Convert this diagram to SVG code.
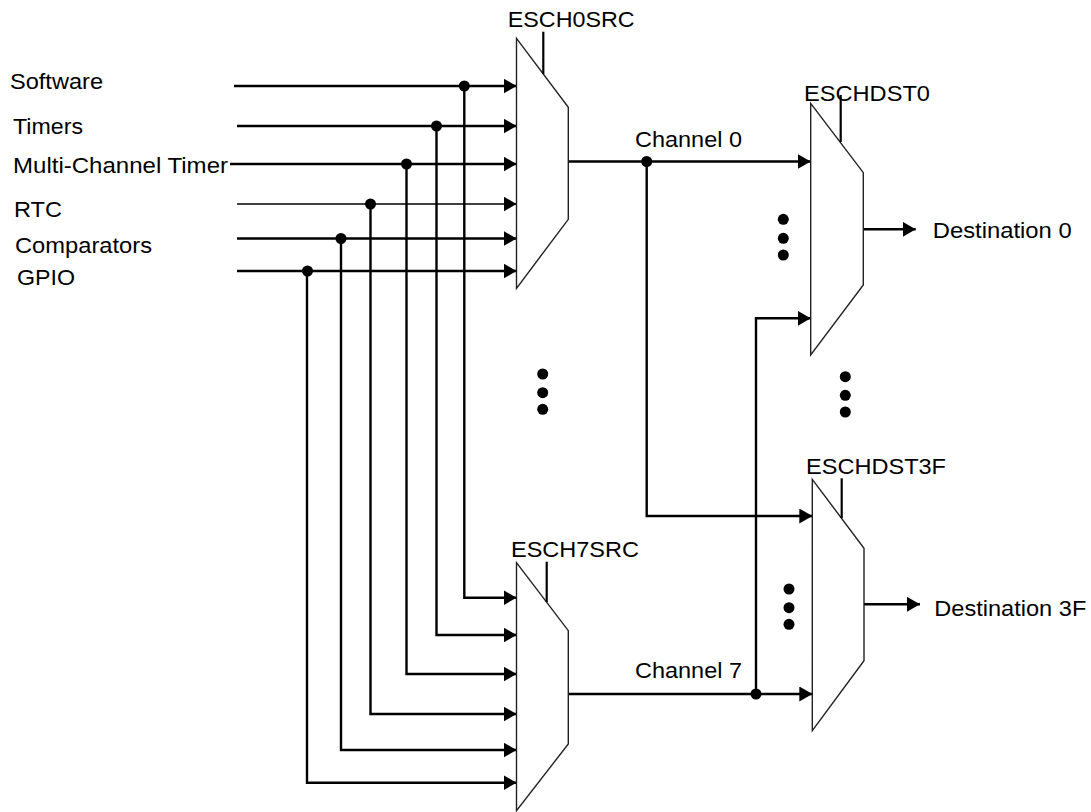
<svg xmlns="http://www.w3.org/2000/svg" width="1091" height="812" viewBox="0 0 1091 812">
<style>
text{font-family:"Liberation Sans",Arial,sans-serif;font-size:22px;fill:#000}
.mux{fill:#fff;stroke:#222;stroke-width:1.4}
.ctl{fill:none;stroke:#000;stroke-width:2.2}
.w{fill:none;stroke:#000;stroke-width:2.4}
.thin{stroke-width:1.4}
.dot{fill:#000}
</style>
<defs>
<marker id="ah" markerUnits="userSpaceOnUse" markerWidth="13" markerHeight="15" refX="13" refY="7.5" orient="auto">
<path d="M0,0 L13,7.5 L0,15 Z" fill="#000"/>
</marker>
</defs>
<rect width="1091" height="812" fill="#fff"/>
<g id="sources">
<g id="src-software"><text x="10" y="89" textLength="93" lengthAdjust="spacingAndGlyphs">Software</text></g>
<g id="src-timers"><text x="13" y="134" textLength="70" lengthAdjust="spacingAndGlyphs">Timers</text></g>
<g id="src-mct"><text x="13" y="173" textLength="215" lengthAdjust="spacingAndGlyphs">Multi-Channel Timer</text></g>
<g id="src-rtc"><text x="14" y="217" textLength="48" lengthAdjust="spacingAndGlyphs">RTC</text></g>
<g id="src-comparators"><text x="15" y="253" textLength="137" lengthAdjust="spacingAndGlyphs">Comparators</text></g>
<g id="src-gpio"><text x="17" y="285" textLength="58" lengthAdjust="spacingAndGlyphs">GPIO</text></g>
</g>
<g id="connectors">
<path class="w" d="M234,86 H516.5" marker-end="url(#ah)"/>
<path class="w" d="M237,126 H516.5" marker-end="url(#ah)"/>
<path class="w" d="M230,164 H516.5" marker-end="url(#ah)"/>
<path class="w thin" d="M237,204 H516.5" marker-end="url(#ah)"/>
<path class="w" d="M237,238.5 H516.5" marker-end="url(#ah)"/>
<path class="w" d="M237,271 H516.5" marker-end="url(#ah)"/>
<path class="w" d="M464.3,86 V597.7 H516.5" marker-end="url(#ah)"/>
<path class="w" d="M436.5,126 V635 H516.5" marker-end="url(#ah)"/>
<path class="w" d="M406.5,164 V674 H516.5" marker-end="url(#ah)"/>
<path class="w" d="M370.5,204 V714 H516.5" marker-end="url(#ah)"/>
<path class="w" d="M341,238.5 V750 H516.5" marker-end="url(#ah)"/>
<path class="w" d="M307,271 V782.7 H516.5" marker-end="url(#ah)"/>
<path class="w" d="M568.3,161.5 H810.7" marker-end="url(#ah)"/>
<path class="w" d="M646.7,161.5 V516 H812.3" marker-end="url(#ah)"/>
<path class="w" d="M568.3,694 H812.3" marker-end="url(#ah)"/>
<path class="w" d="M756,694 V318.3 H810.7" marker-end="url(#ah)"/>
<path class="w" d="M863.3,229.3 H915.7" marker-end="url(#ah)"/>
<path class="w" d="M864,604.3 H920" marker-end="url(#ah)"/>
<circle class="dot" cx="464.3" cy="86" r="5.5"/>
<circle class="dot" cx="436.5" cy="126" r="5.5"/>
<circle class="dot" cx="406.5" cy="164" r="5.5"/>
<circle class="dot" cx="370.5" cy="204" r="5.5"/>
<circle class="dot" cx="341" cy="238.5" r="5.5"/>
<circle class="dot" cx="307.5" cy="271" r="5.5"/>
<circle class="dot" cx="646.7" cy="161.5" r="5.5"/>
<circle class="dot" cx="756" cy="694" r="5.5"/>
<text x="635" y="147.3" textLength="107" lengthAdjust="spacingAndGlyphs">Channel 0</text>
<text x="635" y="678.3" textLength="107" lengthAdjust="spacingAndGlyphs">Channel 7</text>
</g>
<g id="esch0src">
<polygon class="mux" points="516.5,38.3 568.3,107.3 568.3,219.3 516.5,288.3"/>
<path class="ctl" d="M543.3,31.7 V74"/>
<text x="507.7" y="27.3" textLength="127" lengthAdjust="spacingAndGlyphs">ESCH0SRC</text>
</g>
<g id="esch7src">
<polygon class="mux" points="516.5,562.7 568.3,630.7 568.3,744 516.5,810.7"/>
<path class="ctl" d="M546.7,561.7 V602"/>
<text x="511" y="557.3" textLength="128" lengthAdjust="spacingAndGlyphs">ESCH7SRC</text>
</g>
<g id="eschdst0">
<polygon class="mux" points="810.7,103.3 863.3,172.7 863.3,285 810.7,355"/>
<path class="ctl" d="M840.7,95 V142"/>
<text x="804" y="100.7" textLength="126" lengthAdjust="spacingAndGlyphs">ESCHDST0</text>
</g>
<g id="eschdst3f">
<polygon class="mux" points="812.3,479.3 864,548.3 864,660.7 812.3,730.7"/>
<path class="ctl" d="M841.7,478.3 V518"/>
<text x="806" y="474.3" textLength="140" lengthAdjust="spacingAndGlyphs">ESCHDST3F</text>
</g>
<g id="dest0"><text x="932.7" y="237.7" textLength="139" lengthAdjust="spacingAndGlyphs">Destination 0</text></g>
<g id="dest3f"><text x="934.3" y="615.7" textLength="152" lengthAdjust="spacingAndGlyphs">Destination 3F</text></g>
<g id="ellipses">
<circle class="dot" cx="542.7" cy="374" r="5.5"/>
<circle class="dot" cx="542.7" cy="392.7" r="5.5"/>
<circle class="dot" cx="542.7" cy="409.3" r="5.5"/>
<circle class="dot" cx="783.3" cy="219.3" r="5.5"/>
<circle class="dot" cx="783.3" cy="238.3" r="5.5"/>
<circle class="dot" cx="783.3" cy="255" r="5.5"/>
<circle class="dot" cx="845.3" cy="376.7" r="5.5"/>
<circle class="dot" cx="845.3" cy="395.3" r="5.5"/>
<circle class="dot" cx="845.3" cy="412" r="5.5"/>
<circle class="dot" cx="789" cy="589" r="5.5"/>
<circle class="dot" cx="789" cy="607.7" r="5.5"/>
<circle class="dot" cx="789" cy="624.3" r="5.5"/>
</g>
</svg>
